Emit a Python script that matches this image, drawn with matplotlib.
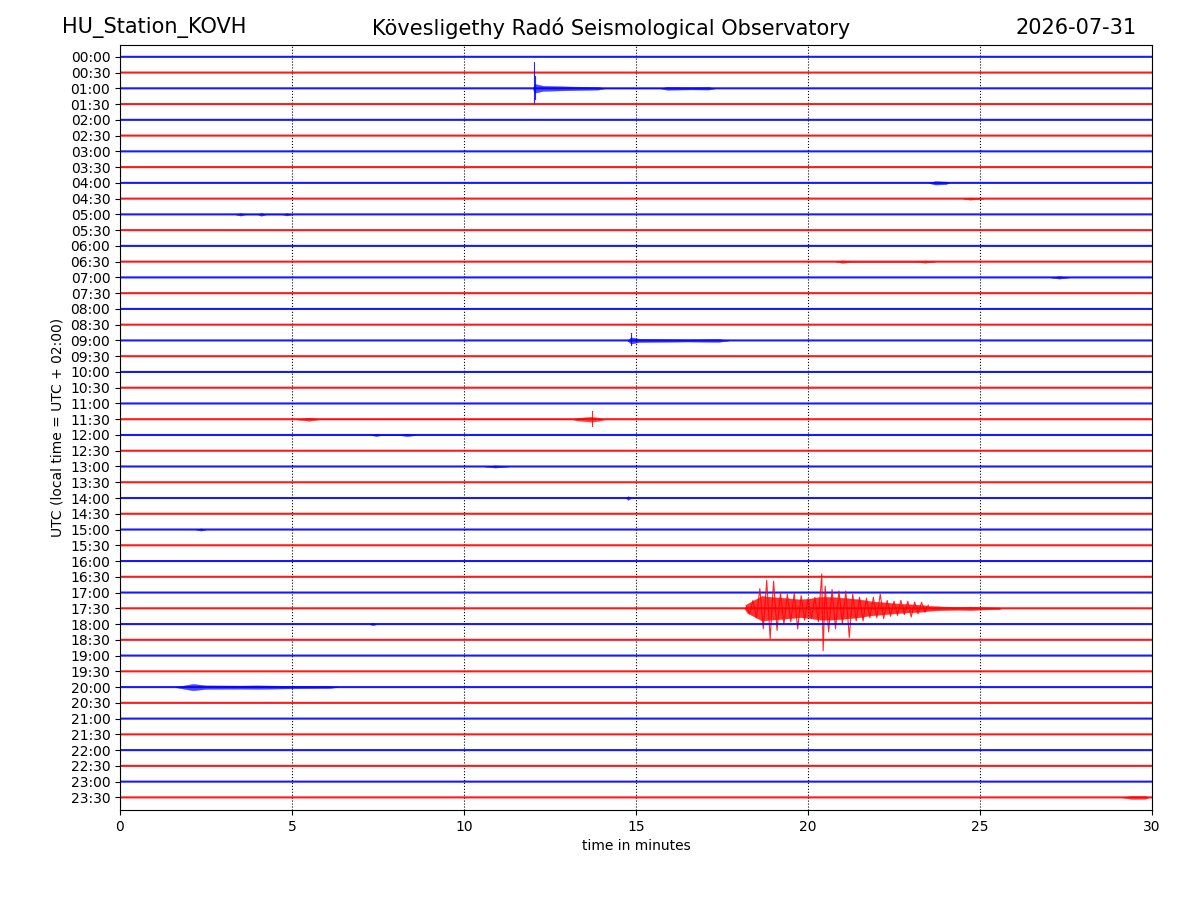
import matplotlib
matplotlib.use("Agg")
import matplotlib.pyplot as plt

# one trace every 30 minutes, 00:00 .. 23:30
row_labels = ["%02d:%02d" % (h, m) for h in range(24) for m in (0, 30)]
row_colors = ["blue", "red"]

station = "HU_Station_KOVH"
observatory = "Kövesligethy Radó Seismological Observatory"
day = "2026-07-31"

# small bursts: row -> list of (minute, half amplitude)
bursts = {
    2: [(12.0, 0.0), (12.05, 0.28), (12.3, 0.16), (13.0, 0.12), (13.9, 0.08), (14.1, 0.0),
        (15.7, 0.0), (15.9, 0.09), (16.6, 0.07), (17.1, 0.08), (17.3, 0.0)],
    8: [(23.5, 0.0), (23.7, 0.11), (24.0, 0.08), (24.1, 0.0)],
    9: [(24.5, 0.0), (24.7, 0.07), (25.1, 0.0)],
    10: [(3.35, 0.0), (3.5, 0.08), (3.65, 0.0), (4.0, 0.0), (4.1, 0.09), (4.25, 0.0),
         (4.7, 0.0), (4.85, 0.07), (5.0, 0.0)],
    13: [(20.8, 0.0), (21.0, 0.08), (21.3, 0.0), (23.1, 0.0), (23.4, 0.07), (23.7, 0.0)],
    14: [(27.05, 0.0), (27.3, 0.08), (27.6, 0.0)],
    18: [(14.75, 0.0), (14.85, 0.2), (15.1, 0.1), (16.5, 0.07), (17.4, 0.09), (17.7, 0.0)],
    23: [(5.1, 0.0), (5.5, 0.1), (5.8, 0.0), (13.15, 0.0), (13.3, 0.08), (13.7, 0.16),
         (13.9, 0.1), (14.1, 0.0)],
    24: [(7.3, 0.0), (7.45, 0.07), (7.6, 0.0), (8.1, 0.0), (8.35, 0.07), (8.6, 0.0)],
    26: [(10.6, 0.0), (10.9, 0.07), (11.3, 0.0)],
    28: [(14.7, 0.0), (14.77, 0.12), (14.85, 0.0)],
    30: [(2.2, 0.0), (2.35, 0.07), (2.5, 0.0)],
    36: [(7.25, 0.0), (7.35, 0.08), (7.45, 0.0)],
    40: [(1.6, 0.0), (1.8, 0.08), (2.12, 0.2), (2.5, 0.11), (3.5, 0.1), (4.0, 0.11),
         (5.0, 0.08), (6.1, 0.06), (6.3, 0.0)],
    47: [(29.15, 0.0), (29.4, 0.1), (29.8, 0.09), (29.9, 0.0)],
}

# earthquake on the 17:30 trace: minute and half width of the dense band
quake_row = 35
quake_t = [18.15, 18.23, 18.46, 18.66, 18.90, 19.19, 19.48, 19.77, 20.06, 20.35, 20.64,
           20.93, 21.22, 21.51, 21.80, 22.09, 22.38, 22.67, 22.97, 23.26, 23.55, 23.84,
           24.13, 24.42, 24.71, 25.0, 25.29, 25.58]
quake_env = [0.0, 0.28, 0.55, 0.78, 0.72, 0.68, 0.62, 0.56, 0.62, 0.72, 0.72,
             0.68, 0.62, 0.56, 0.45, 0.40, 0.34, 0.29, 0.25, 0.22, 0.15, 0.12,
             0.10, 0.09, 0.11, 0.08, 0.06, 0.05]

# successive peaks of the quake trace (minute, signed amplitude, up is negative row offset)
quake_peak_t = [18.20, 18.30, 18.40, 18.50, 18.60, 18.70, 18.80, 18.90, 19.00, 19.10,
                19.20, 19.30, 19.40, 19.50, 19.60, 19.70, 19.80, 19.90, 20.00, 20.10,
                20.20, 20.30, 20.40, 20.44, 20.50, 20.60, 20.70, 20.80, 20.90, 21.00,
                21.10, 21.20, 21.30, 21.40, 21.50, 21.60, 21.70, 21.80, 21.90, 22.00,
                22.10, 22.20, 22.30, 22.40, 22.50, 22.60, 22.70, 22.80, 22.90, 23.00,
                23.10, 23.20, 23.30, 23.40, 23.50]
quake_peak_a = [0.20, -0.35, 0.50, -0.60, 1.25, -1.30, 1.78, -1.93, 1.72, -1.40,
                1.00, -1.00, 0.90, -0.85, 0.95, -1.31, 0.80, -0.75, 0.60, -0.65,
                0.70, -0.85, 2.18, -2.69, 1.40, -1.50, 1.20, -1.30, 1.10, -1.00,
                1.10, -1.85, 0.90, -0.80, 0.70, -0.80, 0.65, -0.60, 0.70, -0.60,
                0.90, -0.65, 0.50, -0.50, 0.45, -0.45, 0.50, -0.40, 0.45, -0.55,
                0.40, -0.35, 0.38, -0.25, 0.20]

# single peaks on the other traces: (row, minute, up, down)
spikes = [
    (2, 12.03, 1.65, 1.0), (2, 12.07, 0.8, 0.7),
    (18, 14.85, 0.45, 0.3),
    (23, 13.72, 0.5, 0.45),
]

fig = plt.figure(figsize=(12, 9), dpi=100)
ax = fig.add_axes([0.1, 0.1, 0.86, 0.85])

for i, lab in enumerate(row_labels):
    col = row_colors[i % 2]
    ax.plot([0, 30], [i, i], color=col, lw=1.5, alpha=0.9, snap=False,
            solid_capstyle="butt")
    if i in bursts:
        tt = [p[0] for p in bursts[i]]
        aa = [p[1] for p in bursts[i]]
        ax.fill_between(tt, [i - a for a in aa], [i + a for a in aa], color=col, lw=0.3,
                        alpha=0.7)
    if i == quake_row:
        ax.fill_between(quake_t, [i - a for a in quake_env], [i + a for a in quake_env],
                        color=col, lw=0.3, alpha=0.8)
        ax.plot(quake_peak_t, [i - a for a in quake_peak_a], color=col, lw=0.8, alpha=0.85)
    for r, t, up, down in spikes:
        if r == i:
            ax.plot([t, t], [i - up, i + down], color=col, lw=0.8, alpha=0.85)

ax.set_xlim(0, 30)
ax.set_ylim(47.8, -0.75)
ax.set_yticks(range(len(row_labels)))
ax.set_yticklabels(row_labels)
ax.set_xticks([0, 5, 10, 15, 20, 25, 30])
ax.xaxis.grid(True, linestyle=":", color="k", lw=0.8)
ax.set_xlabel("time in minutes")
ax.set_ylabel("UTC (local time = UTC + 02:00)")

fig.text(62 / 1200, 1 - 28 / 900, station, fontsize=15, ha="left", va="center")
fig.text(611 / 1200, 1 - 28 / 900, observatory, fontsize=15, ha="center", va="center")
fig.text(1137 / 1200, 1 - 28 / 900, day, fontsize=15, ha="right", va="center")

fig.savefig("out.png", dpi=100)
